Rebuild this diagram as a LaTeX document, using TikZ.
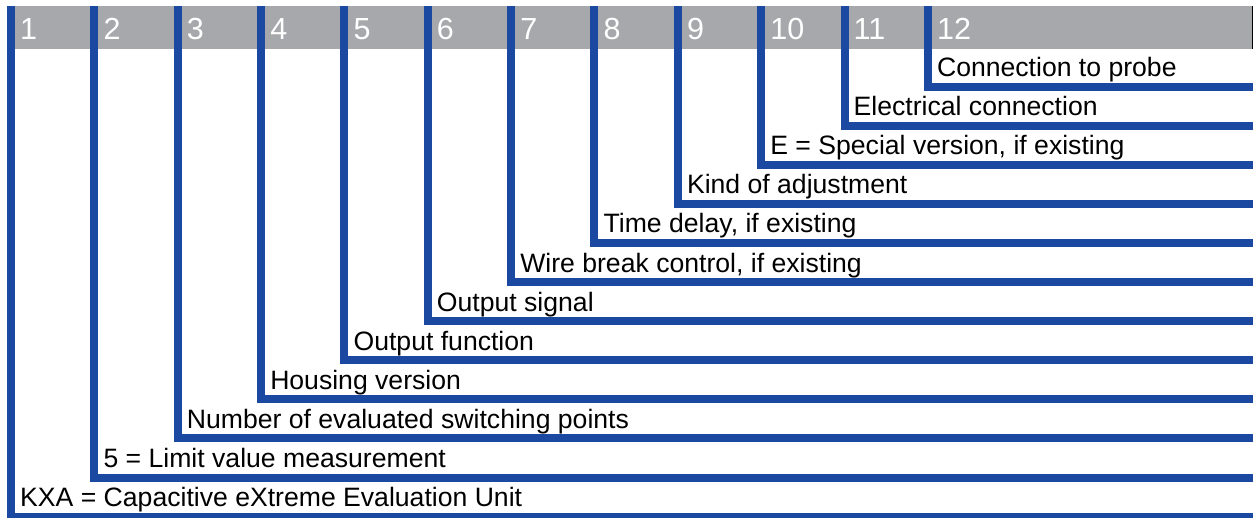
\documentclass[tikz,border=0pt]{standalone}
\usepackage{fontspec}
\setmainfont{Liberation Sans}
\definecolor{barblue}{RGB}{27,72,160}
\definecolor{headgrey}{RGB}{167,168,171}
\begin{document}
\begin{tikzpicture}[x=1pt,y=-1pt,
  bar/.style={draw=barblue,line width=8pt,line join=miter},
  numlbl/.style={anchor=base west,inner sep=0pt,text=white,font=\fontsize{30.5}{30.5}\selectfont},
  rowlbl/.style={anchor=base west,inner sep=0pt,text=black,font=\fontsize{26.6}{26.6}\selectfont}]
\useasboundingbox (0,0) rectangle (1253,517);
\fill[white] (0,0) rectangle (1253,517);
\fill[headgrey] (7,6) rectangle (1252,49);
\draw[black,line width=1pt] (1252.5,6) -- (1252.5,49);
\foreach \k/\txt in {1/{KXA = Capacitive eXtreme Evaluation Unit},
                     2/{5 = Limit value measurement},
                     3/{Number of evaluated switching points},
                     4/{Housing version},
                     5/{Output function},
                     6/{Output signal},
                     7/{Wire break control, if existing},
                     8/{Time delay, if existing},
                     9/{Kind of adjustment},
                     10/{E = Special version, if existing},
                     11/{Electrical connection},
                     12/{Connection to probe}}{
  \pgfmathsetmacro{\xk}{11+(\k-1)*83.35}
  \pgfmathsetmacro{\yk}{86.5+(12-\k)*39.1}
  \coordinate (top\k) at (\xk,6);
  \coordinate (corner\k) at (\xk,\yk);
  \coordinate (end\k) at (1258,\yk);
  \draw[bar] (top\k) -- (corner\k) -- (end\k);
  \node[numlbl] (num\k) at (\xk+9,39) {\k};
  \node[rowlbl] (lbl\k) at (\xk+9,\yk-10) {\txt};
}
\end{tikzpicture}
\end{document}
